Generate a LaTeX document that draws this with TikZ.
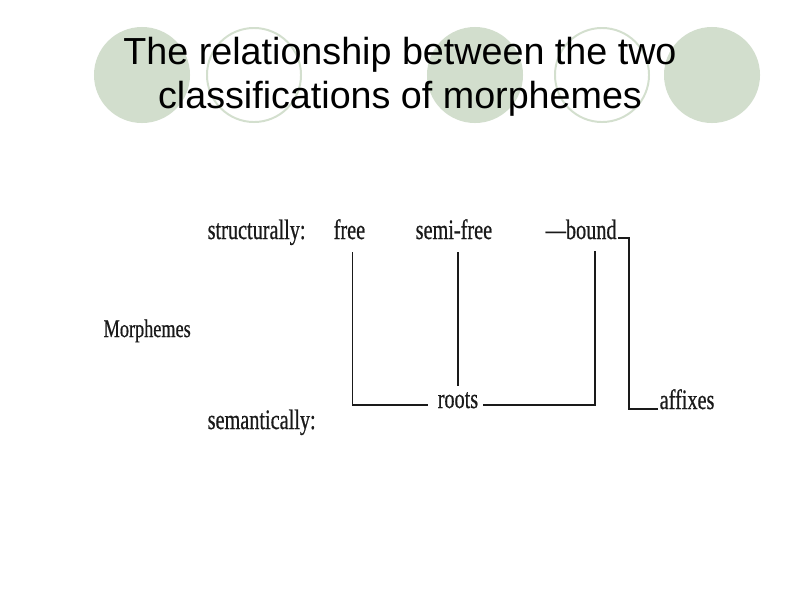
\documentclass[tikz,border=0pt]{standalone}
\usepackage{fontspec}
\setmainfont{Liberation Sans}
\newfontfamily\scanfont[FakeStretch=0.72,FakeBold=0.6]{Liberation Serif}
\usetikzlibrary{positioning,calc}
\definecolor{SlideSage}{HTML}{D2DECD}
\definecolor{SlideRing}{HTML}{D3DFCE}
\definecolor{ScanInk}{HTML}{1A1A1A}
\tikzset{
    % Slide decoration
    dot filled/.style={
        circle,
        draw=none,
        fill=SlideSage,
        minimum size=2.4cm,
        inner sep=0pt
    },
    dot ring/.style={
        circle,
        draw=SlideRing,
        line width=1.4pt,
        fill=none,
        minimum size=2.35cm,
        inner sep=0pt
    },
    title text/.style={
        font=\fontsize{26.8}{31.3}\selectfont,
        text=black,
        align=center,
        inner sep=0pt
    },
    % Scanned diagram
    scan text/.style={
        font=\scanfont\fontsize{20}{24}\selectfont,
        text=ScanInk,
        inner sep=1pt,
        anchor=base west
    },
    scan line/.style={
        draw=ScanInk,
        line width=1pt
    }
}
\begin{document}
\begin{tikzpicture}[x=0.025cm, y=-0.025cm]
    \useasboundingbox[fill=white] (0,0) rectangle (800,600);

    % Circles behind the title
    \node[dot filled] (dot1) at (142,75) {};
    \node[dot ring]   (dot2) at (254,75) {};
    \node[dot filled] (dot3) at (475,75) {};
    \node[dot ring]   (dot4) at (602,75) {};
    \node[dot filled] (dot5) at (712,75) {};

    % Title
    \node[title text] (title) at (400,77)
          {The relationship between the two\\classifications of morphemes};

    % Labels
    \node[scan text] (struct) at (206,239) {structurally:};
    \node[scan text] (free) at (332,239) {free};
    \node[scan text] (semifree) at (414,239) {semi-free};
    \node[scan text] (bound) at (544,239) {—bound};
    \node[scan text, font=\scanfont\fontsize{18}{22}\selectfont] (morph) at (102,337) {Morphemes};
    \node[scan text] (sem) at (206,429) {semantically:};
    \node[scan text] (roots) at (436,408) {roots};
    \node[scan text] (affixes) at (658,409) {affixes};

    % Lines
    \coordinate (bc) at (629,238);
    \coordinate (sfleg) at ($(semifree.base)+(4,13)$);
    \draw[scan line] ($(free.base)+(3,13)$) |- ($(roots.base west)+(-8,-3)$);
    \draw[scan line] ($(bound.base)+(14,12)$) |- ($(roots.base east)+(3,-3)$);
    \draw[scan line, shorten >=0.12cm] (sfleg) -- (sfleg |- roots.north);
    \draw[scan line] (bound.base east |- bc) -- (bc) |- (affixes.base west);
\end{tikzpicture}
\end{document}
